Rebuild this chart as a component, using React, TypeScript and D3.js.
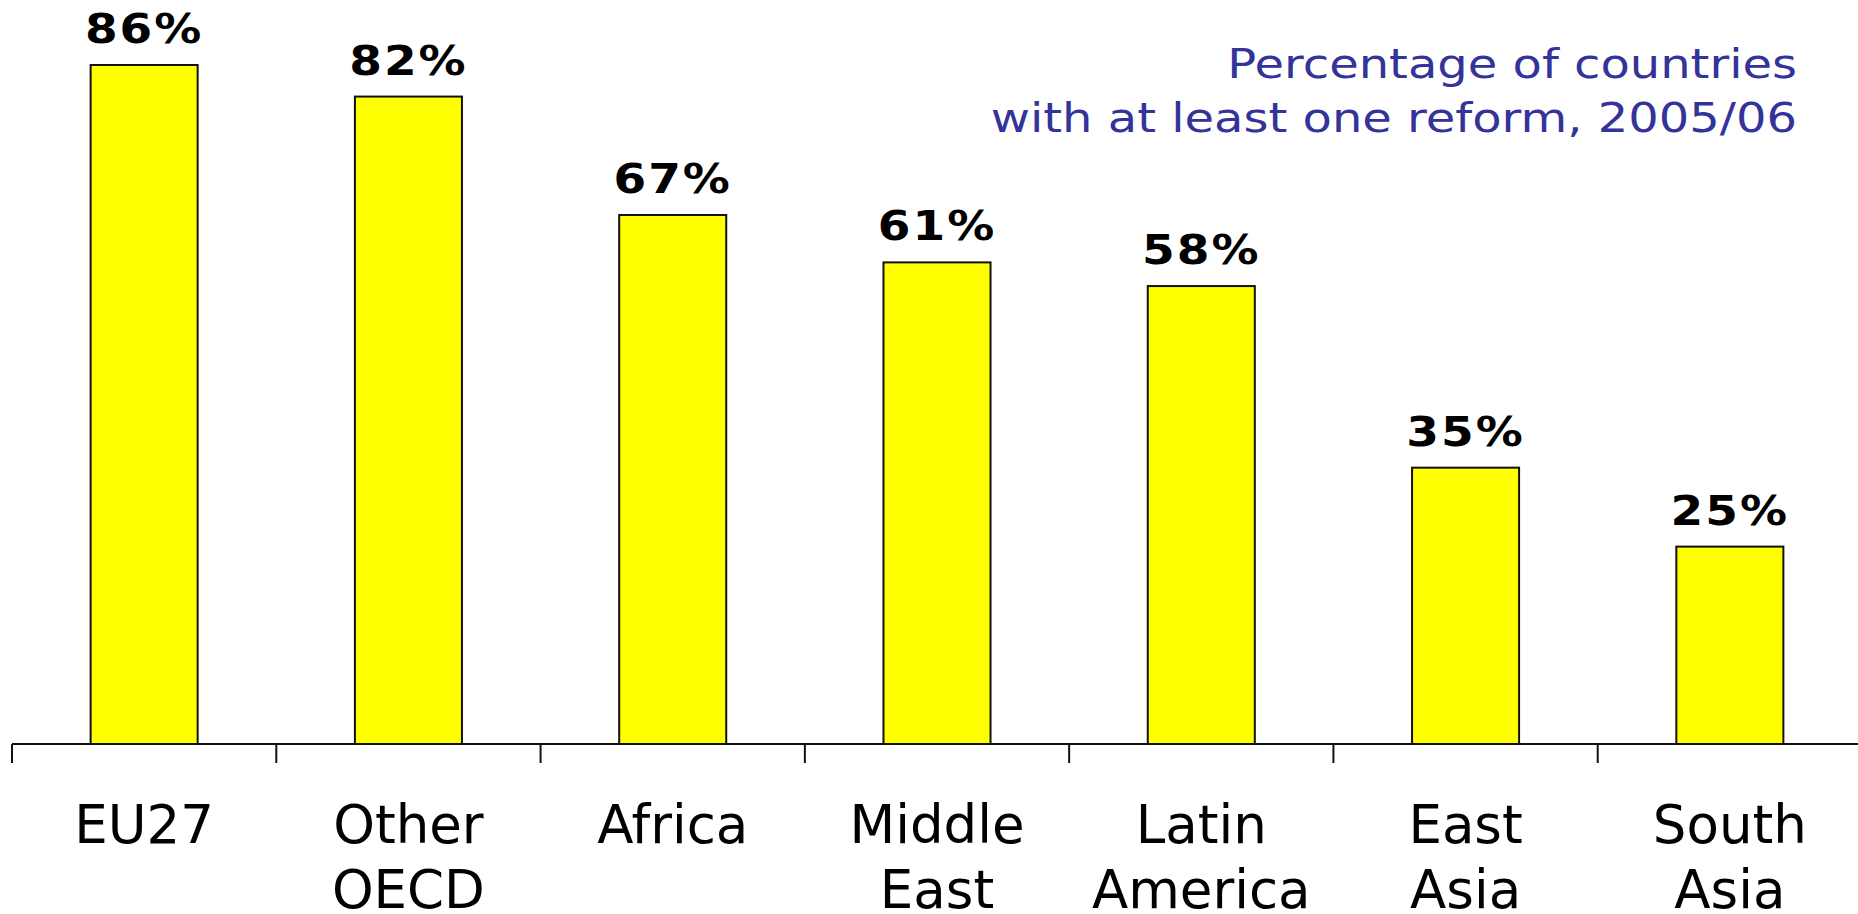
import React from "react";
import * as d3 from "d3";

const categories: string[][] = [
  ["EU27"],
  ["Other", "OECD"],
  ["Africa"],
  ["Middle", "East"],
  ["Latin", "America"],
  ["East", "Asia"],
  ["South", "Asia"],
];
const values: number[] = [86, 82, 67, 61, 58, 35, 25];
const titleLines: string[] = ["Percentage of countries", "with at least one reform, 2005/06"];

const W = 1858;
const H = 914;

export default function App() {
  const keys = categories.map((c) => c.join(" "));
  const x = d3
    .scaleBand<string>()
    .domain(keys)
    .range([12, 1862])
    .paddingInner(0.595)
    .paddingOuter(0.2975);
  const y = d3.scaleLinear().domain([0, 86]).range([744, 65]);
  const step = x.step();
  const x0 = x.range()[0];
  const tickXs = d3.range(keys.length + 1).map((i) => x0 + i * step);
  const font = "'DejaVu Sans', Verdana, sans-serif";

  return (
    <svg
      width={W}
      height={H}
      style={{ position: "absolute", left: 0, top: 0, background: "#fff" }}
    >
      <rect x={0} y={0} width={W} height={H} fill="#fff" />
      {values.map((v, i) => {
        const k = keys[i];
        const bx = x(k)!;
        const bw = x.bandwidth();
        const cx = bx + bw / 2;
        return (
          <g key={k}>
            <rect
              x={bx}
              y={y(v)}
              width={bw}
              height={y(0) - y(v)}
              fill="#FFFF00"
              stroke="#111"
              strokeWidth={2}
            />
            <g transform={`translate(${cx},${y(v) - 22}) scale(1,0.86)`}>
              <text
                x={0}
                y={0}
                textAnchor="middle"
                fontFamily={font}
                fontWeight="bold"
                fontSize={47}
                letterSpacing={2}
                fill="#000"
              >
                {v}%
              </text>
            </g>
            {categories[i].map((line, j) => (
              <text
                key={j}
                x={cx}
                y={843 + j * 65}
                textAnchor="middle"
                fontFamily={font}
                fontSize={53}
                fill="#000"
              >
                {line}
              </text>
            ))}
          </g>
        );
      })}
      <line x1={x0} x2={W} y1={y(0)} y2={y(0)} stroke="#111" strokeWidth={2} />
      {tickXs.map((tx, i) => (
        <line key={i} x1={tx} x2={tx} y1={y(0)} y2={y(0) + 19} stroke="#111" strokeWidth={2} />
      ))}
      {titleLines.map((t, i) => (
        <g key={i} transform={`translate(1797,${78 + i * 54}) scale(1,0.86)`}>
          <text
            x={0}
            y={0}
            textAnchor="end"
            fontFamily={font}
            fontSize={48}
            fill="#333399"
          >
            {t}
          </text>
        </g>
      ))}
    </svg>
  );
}
